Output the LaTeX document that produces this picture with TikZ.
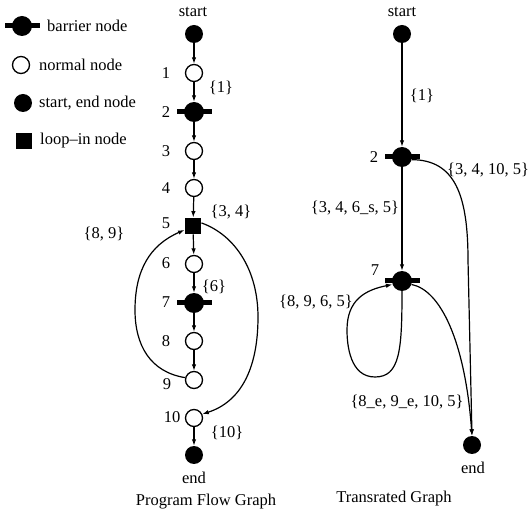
\documentclass[tikz,border=0pt]{standalone}
\usepackage{fontspec}
\setmainfont{Liberation Serif}
\usetikzlibrary{arrows.meta}
\begin{document}
\begin{tikzpicture}[x=1pt,y=-1pt,
  every node/.style={font=\fontsize{16.5}{19}\selectfont, inner sep=0pt},
  normal/.style={circle,draw,line width=1.3pt,fill=white,minimum size=17pt},
  terminal/.style={circle,fill=black,minimum size=18pt},
  loopin/.style={rectangle,fill=black,minimum size=16.5pt},
  barrier/.style={circle,fill=black,minimum size=20pt,
     label={[rectangle,fill=black,minimum width=35pt,minimum height=5pt,inner sep=0pt,anchor=center]center:{}}},
  arr/.style={line width=1.2pt,-{Latex[length=6.5pt,width=4.5pt]}}]
\useasboundingbox (0,0) rectangle (531,513);

% legend
\node[barrier] (lb) at (22,26) {};
\node[anchor=west] (lbt) at (47,26) {barrier node};
\node[normal] (ln) at (21,65) {};
\node[anchor=west] (lnt) at (39,65) {normal node};
\node[terminal] (lt) at (23,103) {};
\node[anchor=west] (ltt) at (39,103) {start, end node};
\node[loopin] (ll) at (24,141) {};
\node[anchor=west] (llt) at (40,141) {loop--in node};

% left graph
\node (lstart) at (193,12) {start};
\node[terminal] (s) at (194,34) {};
\node[normal] (n1) at (194,73) {};
\node[barrier] (n2) at (194,112) {};
\node[normal] (n3) at (194,151) {};
\node[normal] (n4) at (194,188) {};
\node[loopin] (n5) at (193,226) {};
\node[normal] (n6) at (194,264) {};
\node[barrier] (n7) at (194,303) {};
\node[normal] (n8) at (194,341) {};
\node[normal] (n9) at (194,380) {};
\node[normal] (n10) at (194,418) {};
\node[terminal] (e) at (194,455) {};
\node (lend) at (194,478) {end};
\node (ltitle) at (206,502) {Program Flow Graph};

\node (k1) at (166,73) {1};
\node (k2) at (166,112) {2};
\node (k3) at (166,151) {3};
\node (k4) at (166,188) {4};
\node (k5) at (166,223) {5};
\node (k6) at (166,263) {6};
\node (k7) at (166,302) {7};
\node (k8) at (166,341) {8};
\node (k9) at (167,384) {9};
\node (k10) at (172,417) {10};

\node (c1) at (221,88) {\{1\}};
\node (c34) at (231,212) {\{3, 4\}};
\node (c89) at (104,234) {\{8, 9\}};
\node (c6) at (214,287) {\{6\}};
\node (c10) at (227,433) {\{10\}};

\draw[arr] (s) -- (n1);
\draw[arr] (n1) -- (n2);
\draw[arr] (n2) -- (n3);
\draw[arr] (n3) -- (n4);
\draw[arr] (n4) -- (n5);
\draw[arr] (n5) -- (n6);
\draw[arr] (n6) -- (n7);
\draw[arr] (n7) -- (n8);
\draw[arr] (n8) -- (n9);
\draw[arr] (n10) -- (e);
\draw[arr] (n9.165) .. controls (150,372) and (135,345) .. (135,310)
   .. controls (135,270) and (150,245) .. (n5.205);
\draw[arr] (n5.20) .. controls (235,235) and (258,270) .. (258,317)
   .. controls (258,370) and (240,402) .. (n10.25);

% right graph
\node (rstart) at (402,12) {start};
\node[terminal] (rs) at (402,34) {};
\node[barrier] (r2) at (402,157) {};
\node[barrier] (r7) at (402,281) {};
\node[terminal] (re) at (472,445) {};
\node (rend) at (473,468) {end};
\node (rtitle) at (394,499) {Transrated Graph};

\node (q2) at (374,157) {2};
\node (q7) at (375,270) {7};
\node (d1) at (422,96) {\{1\}};
\node (d3410) at (488,170) {\{3, 4, 10, 5\}};
\node (d346) at (355,208) {\{3, 4, 6\_s, 5\}};
\node (d8965) at (316,302) {\{8, 9, 6, 5\}};
\node (d89e) at (407,402) {\{8\_e, 9\_e, 10, 5\}};

\draw[arr] (rs) -- (r2);
\draw[arr] (r2) -- (r7);
\draw[arr] (r2.-15) .. controls (455,160) and (468,195) .. (468,260) -- (re.north);
\draw[arr] (r7.-20) .. controls (440,290) and (465,340) .. (re.north);
\draw[arr] (r7.south) .. controls (402,350) and (400,377) .. (375,377)
   .. controls (350,377) and (347,345) .. (347,330)
   .. controls (347,300) and (365,290) .. (r7.200);
\end{tikzpicture}
\end{document}
